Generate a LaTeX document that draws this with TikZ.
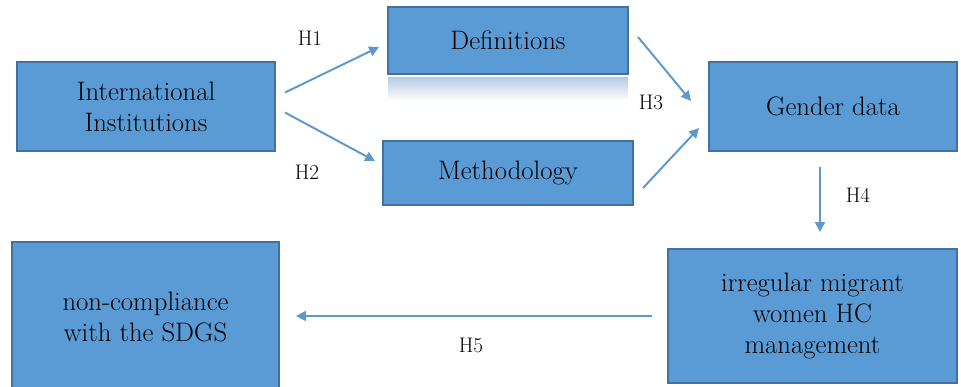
\documentclass[tikz,border=0pt]{standalone}
\usetikzlibrary{arrows.meta}
\definecolor{boxfill}{RGB}{91,155,213}
\definecolor{boxline}{RGB}{65,113,156}
\definecolor{linkblue}{RGB}{95,152,205}
\definecolor{glow}{RGB}{185,205,228}
\def\u{0.025cm}

\tikzset{
  box/.style={draw=boxline, line width=1.4pt, fill=boxfill, inner sep=0pt,
    align=center, font=\fontsize{19}{22}\selectfont},
  hyp/.style={inner sep=0pt, font=\fontsize{15}{17}\selectfont},
  link/.style={draw=linkblue, line width=1.4pt,
    -{Triangle[length=7pt,width=7pt]}}
}

\begin{document}
\begin{tikzpicture}[x=\u, y=-\u]
  \useasboundingbox (0,0) rectangle (961,387);
  % faded strip under Definitions
  \shade[top color=glow, bottom color=white] (388,78) rectangle (628,101);
  % boxes
  \node[box, minimum width=258*\u, minimum height=89*\u] (inst) at (146,106.5) {International\\Institutions};
  \node[box, minimum width=240*\u, minimum height=67*\u] (def) at (508,40.5) {Definitions};
  \node[box, minimum width=250*\u, minimum height=64*\u] (meth) at (508,173) {Methodology};
  \node[box, minimum width=248*\u, minimum height=89*\u] (gender) at (833,106.5) {Gender data};
  \node[box, minimum width=289*\u, minimum height=134*\u] (irr) at (812.5,316) {irregular migrant\\women HC\\management};
  \node[box, minimum width=267*\u, minimum height=150*\u] (non) at (145.5,317) {non-compliance\\with the SDGS};
  % hypotheses
  \draw[link] ([shift={(9,-14)}]inst.east) -- ([shift={(-8,6.5)}]def.west);
  \draw[link] ([shift={(9,6)}]inst.east) -- ([shift={(-7,-12)}]meth.west);
  \draw[link] ([shift={(9,-3.5)}]def.east) -- ([shift={(-17,-5.5)}]gender.west);
  \draw[link] ([shift={(9,15)}]meth.east) -- ([shift={(-9,21.5)}]gender.west);
  \draw[link] ([shift={(-13,15)}]gender.south) -- ([shift={(7.5,-16)}]irr.north);
  \draw[link] ([shift={(-15,0)}]irr.west) -- ([shift={(16,-1)}]non.east);
  \node[hyp] (hone) at (310,38) {H1};
  \node[hyp] (htwo) at (307,172) {H2};
  \node[hyp] (hthree) at (651,102) {H3};
  \node[hyp] (hfour) at (858,195) {H4};
  \node[hyp] (hfive) at (471,345) {H5};
\end{tikzpicture}
\end{document}
